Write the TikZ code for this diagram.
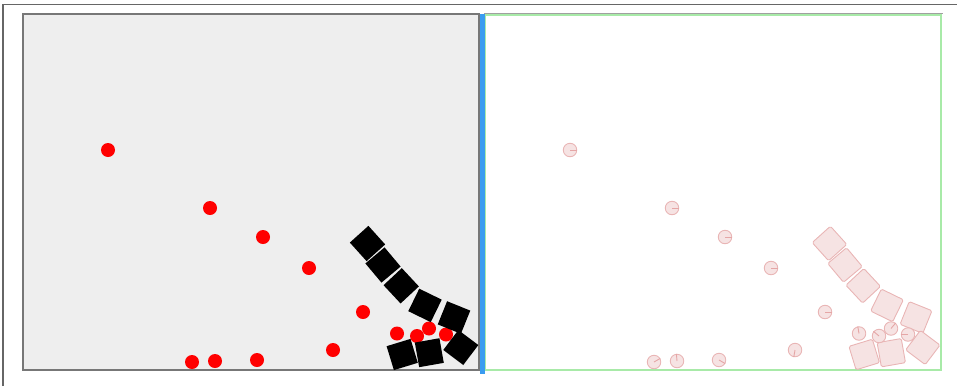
\documentclass[tikz,border=0pt]{standalone}
\begin{document}
\definecolor{framegray}{HTML}{666666}
\definecolor{panelgray}{HTML}{EEEEEE}
\definecolor{panelborder}{HTML}{777777}
\definecolor{barblue}{HTML}{3A9CF0}
\definecolor{panelgreen}{HTML}{A8EAA8}
\definecolor{ghostfill}{HTML}{F6E3E3}
\definecolor{ghostline}{HTML}{E9B5B5}
\begin{tikzpicture}[x=1pt,y=-1pt,
  ball/.style={circle,fill=red,minimum size=14pt,inner sep=0pt},
  box/.style={rectangle,fill=black,minimum size=25pt,inner sep=0pt},
  gball/.style={circle,fill=ghostfill,draw=ghostline,line width=0.9pt,minimum size=13.5pt,inner sep=0pt},
  gbox/.style={rectangle,fill=ghostfill,draw=ghostline,line width=0.9pt,rounded corners=1.5pt,minimum size=24.5pt,inner sep=0pt},
  gline/.style={draw=ghostline!120,line width=0.9pt}]
\useasboundingbox (0,0) rectangle (957,386);
% outer frame
\draw[framegray,line width=1.3pt] (3,386) -- (3,4.6) -- (957,4.6);
% left panel
\draw[panelborder,fill=panelgray,line width=2pt] (23,14.3) rectangle (478.5,370);
% right panel
\draw[panelgreen,line width=2pt] (484.5,15) rectangle (941,370);
\draw[panelborder!70,line width=0.8pt] (484,13.6) -- (943,13.6);
% divider bar
\fill[barblue] (479.5,14) rectangle (484.5,373.5);
% left: balls
\foreach \x/\y [count=\i] in {108/150,210/208,263/237,309/268,363/312,333/350,192/362,215/361,257/360,397/333.5,417/336,429/328.5,446/334.5}
  \node[ball] (b\i) at (\x,\y) {};
% left: boxes
\foreach \x/\y/\r [count=\i] in {367.5/243.5/42,383/265/40,401.2/285.8/43,425/305.4/-26,454/317.5/-22,402.2/354.5/17,429.3/352.7/10,460.8/347.5/53}
  \node[box,rotate=\r] (s\i) at (\x,\y) {};
% right: ghost boxes
\foreach \x/\y/\r [count=\i] in {367.5/243.5/42,383/265/40,401.2/285.8/43,425/305.4/-26,454/317.5/-22,402.2/354.5/17,429.3/352.7/10,460.8/347.5/53}
  \node[gbox,rotate=\r] (gs\i) at (\x+462,\y) {};
% right: ghost balls with orientation marks
\foreach \x/\y/\a [count=\i] in {108/150/0,210/208/0,263/237/0,309/268/0,363/312/0,333/350/-100,192/362/30,215/361/95,257/360/-30,397/333.5/100,417/336/140,429/328.5/50,446/334.5/180}
{
  \node[gball] (g\i) at (\x+462,\y) {};
  \draw[gline] (g\i.center) -- (g\i.\a);
}
\end{tikzpicture}
\end{document}
